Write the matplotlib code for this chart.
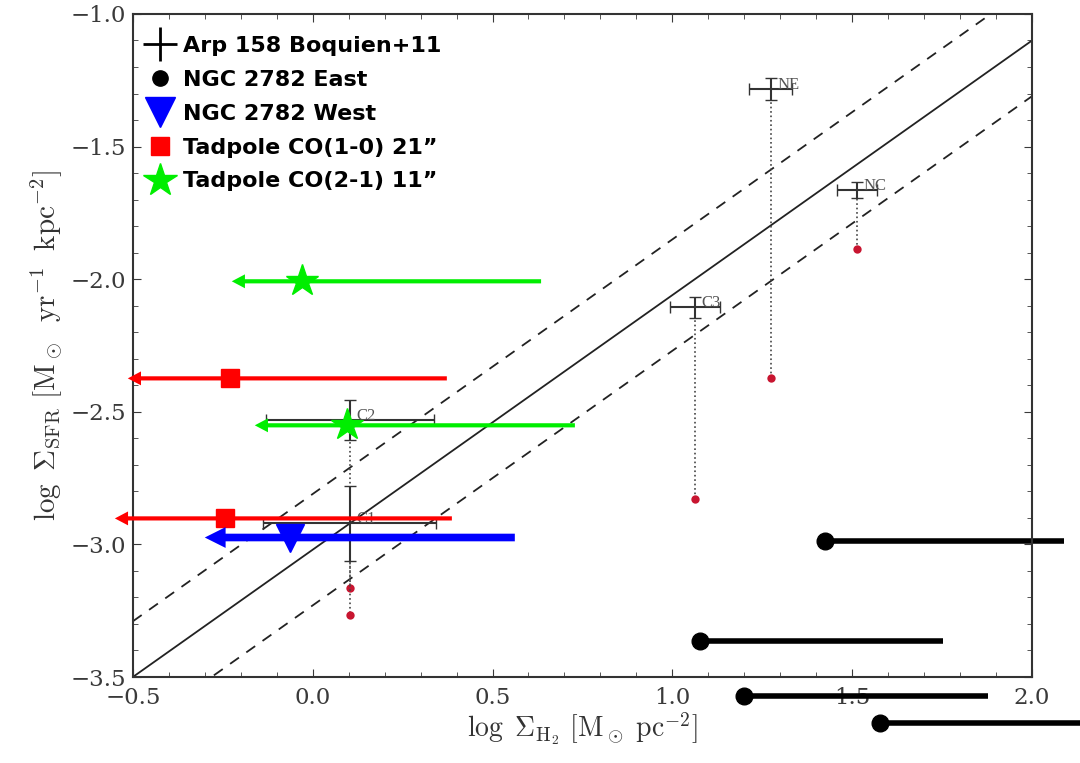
import matplotlib as mpl
mpl.use("Agg")
import matplotlib.pyplot as plt
import numpy as np

mpl.rcParams.update({
    "font.family": "DejaVu Serif",
    "mathtext.fontset": "cm",
    "xtick.direction": "in",
    "ytick.direction": "in",
    "xtick.top": True,
    "ytick.right": True,
})

# Arp 158 regions (Boquien+11), grey background points
arp_names = ["NE", "NC", "C3", "C2", "C1"]
arp_x = [1.274, 1.513, 1.063, 0.103, 0.103]
arp_y = [-1.283, -1.664, -2.106, -2.532, -2.921]
arp_xerr = [0.06, 0.055, 0.07, 0.233, 0.24]
arp_yerr = [0.04, 0.03, 0.04, 0.075, 0.14]
arp_red_y = [-2.374, -1.887, -2.83, -3.166, -3.268]

# NGC 2782 East (lower limits in x)
east_x = [1.424, 1.077, 1.199, 1.577]
east_y = [-2.989, -3.366, -3.570, -3.672]
east_xend = [2.089, 1.752, 1.878, 2.133]

# NGC 2782 West (upper limit)
west_x = [-0.063]
west_y = [-2.974]
west_xstart = [0.562]
west_xtip = [-0.30]

# Tadpole CO(1-0) 21"
co10_x = [-0.230, -0.244]
co10_y = [-2.374, -2.902]
co10_xstart = [0.373, 0.387]
co10_xtip = [-0.514, -0.55]

# Tadpole CO(2-1) 11"
co21_x = [-0.030, 0.095]
co21_y = [-2.008, -2.551]
co21_xstart = [0.635, 0.729]
co21_xtip = [-0.225, -0.161]

fig = plt.figure(figsize=(10.8, 7.63), dpi=100)
ax = fig.add_axes([0.123, 0.1127, 0.8326, 0.869])

# KS relation and scatter
xl = np.array([-0.5, 2.0])
ks = 0.96 * xl - 3.02
ax.plot(xl, ks, color="#222222", lw=1.3)
ax.plot(xl, ks + 0.21, color="#222222", lw=1.3, ls=(0, (6, 5)))
ax.plot(xl, ks - 0.21, color="#222222", lw=1.3, ls=(0, (6, 5)))

# grey Arp 158 points
for i in range(len(arp_names)):
    ax.plot([arp_x[i], arp_x[i]], [arp_y[i], arp_red_y[i]], color="#444444",
            ls=":", lw=1.2)
    ax.plot(arp_x[i], arp_red_y[i], "o", color="#c81530", ms=6, mec="none")
    ax.text(arp_x[i] + 0.018, arp_y[i] + 0.015, arp_names[i], fontsize=12,
            color="#555555", va="center", family="Liberation Serif")
ax.errorbar(arp_x, arp_y, xerr=arp_xerr, yerr=arp_yerr, fmt="none",
            ecolor="#333333", elinewidth=1.5, capsize=4)


def limit_arrow(x0, x1, y, color, w, hw, hl):
    ax.annotate("", xy=(x1, y), xytext=(x0, y), annotation_clip=False,
                arrowprops=dict(facecolor=color, edgecolor="none", width=w,
                                headwidth=hw, headlength=hl, shrink=0))


# NGC 2782 East
for i in range(len(east_x)):
    ax.plot([east_x[i], east_xend[i]], [east_y[i], east_y[i]], color="black",
            lw=4, clip_on=False, solid_capstyle="butt")
ax.plot(east_x, east_y, "o", color="black", ms=12, clip_on=False)

# NGC 2782 West
for i in range(len(west_x)):
    limit_arrow(west_xstart[i], west_xtip[i], west_y[i], "blue", 5.5, 15, 15)
ax.plot(west_x, west_y, "v", color="blue", ms=20, clip_on=False)

# Tadpole CO(1-0)
for i in range(len(co10_x)):
    limit_arrow(co10_xstart[i], co10_xtip[i], co10_y[i], "red", 3, 10, 9.5)
ax.plot(co10_x, co10_y, "s", color="red", ms=13, clip_on=False)

# Tadpole CO(2-1)
for i in range(len(co21_x)):
    limit_arrow(co21_xstart[i], co21_xtip[i], co21_y[i], "#00ee00", 3, 10, 9.5)
ax.plot(co21_x, co21_y, "*", color="#00ee00", ms=24, clip_on=False)

ax.set_xlim(-0.5, 2.0)
ax.set_ylim(-3.5, -1.0)
ax.set_xticks(np.arange(-0.5, 2.01, 0.5))
ax.set_yticks(np.arange(-3.5, -0.99, 0.5))
ax.set_xticklabels(["\u22120.5", "0.0", "0.5", "1.0", "1.5", "2.0"])
ax.set_yticklabels(["\u22123.5", "\u22123.0", "\u22122.5", "\u22122.0", "\u22121.5", "\u22121.0"])
ax.set_xticks(np.arange(-0.5, 2.01, 0.1), minor=True)
ax.set_yticks(np.arange(-3.5, -0.99, 0.1), minor=True)
ax.tick_params(which="major", length=6, labelsize=16.5, colors="#3a3a3a", pad=5)
ax.tick_params(axis="x", which="major", pad=7)
ax.tick_params(which="minor", length=3.5, colors="#3a3a3a")
for s in ax.spines.values():
    s.set_linewidth(1.5)
    s.set_color("#333333")

ax.set_xlabel(r"$\log\ \Sigma_{\rm H_2}\ [\rm M_\odot\ pc^{-2}]$", fontsize=20,
              color="#333333", labelpad=1)
ax.set_ylabel(r"$\log\ \Sigma_{\rm SFR}\ [\rm M_\odot\;\ yr^{-1}\;\ kpc^{-2}]$",
              fontsize=21, color="#333333", labelpad=4)

# legend
h = [
    plt.Line2D([], [], marker="+", color="black", ls="none", ms=24, mew=2),
    plt.Line2D([], [], marker="o", color="black", ls="none", ms=11),
    plt.Line2D([], [], marker="v", color="blue", ls="none", ms=21),
    plt.Line2D([], [], marker="s", color="red", ls="none", ms=13),
    plt.Line2D([], [], marker="*", color="#00ee00", ls="none", ms=25),
]
labels = ["Arp 158 Boquien+11", "NGC 2782 East", "NGC 2782 West",
          "Tadpole CO(1-0) 21\u201d", "Tadpole CO(2-1) 11\u201d"]
ax.legend(h, labels, loc="upper left", bbox_to_anchor=(-0.013, 1.0), frameon=False,
          borderaxespad=0.8, handletextpad=0.3, labelspacing=0.62, handlelength=1.5,
          borderpad=0.2, prop={"family": "DejaVu Sans", "weight": "bold", "size": 16})

fig.savefig("out.png", dpi=100)
